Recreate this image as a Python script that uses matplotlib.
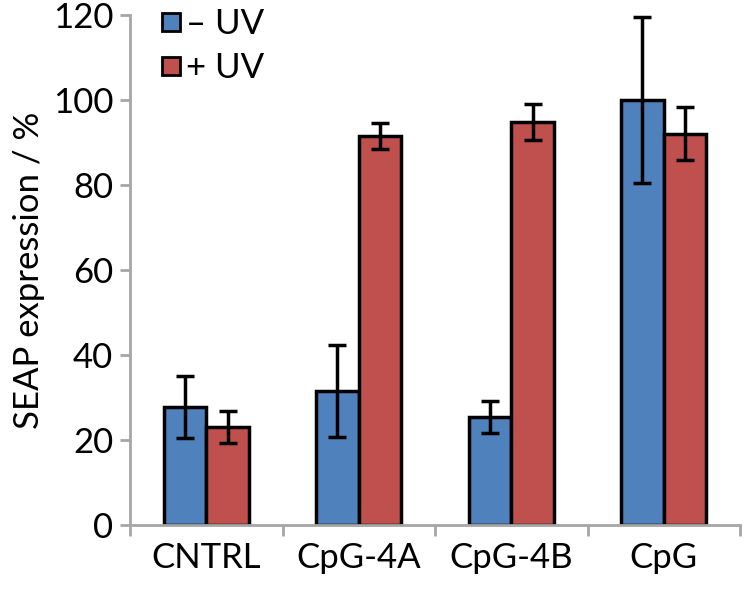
import numpy as np
import matplotlib.pyplot as plt
from matplotlib.lines import Line2D

categories = ["CNTRL", "CpG-4A", "CpG-4B", "CpG"]
minus_uv = [27.7, 31.6, 25.4, 100.0]
minus_uv_err = [7.3, 10.8, 3.8, 19.6]
plus_uv = [23.1, 91.5, 94.8, 92.1]
plus_uv_err = [3.7, 3.0, 4.3, 6.2]
yticks = [0, 20, 40, 60, 80, 100, 120]

blue = "#4F81BD"
red = "#C0504D"
grey = "#A6A6A6"

plt.rcParams["font.family"] = ["Lato", "DejaVu Sans"]

fig = plt.figure(figsize=(7.49, 5.93), dpi=100)
ax = fig.add_axes([0.1736, 0.1147, 0.8144, 0.86])

x = np.arange(len(categories))
w = 0.28
err_kw = dict(ecolor="black", elinewidth=2.5, capsize=6.5, capthick=2.5)
ax.bar(x - w / 2, minus_uv, w, yerr=minus_uv_err, color=blue,
       edgecolor="black", linewidth=2.5, error_kw=err_kw)
ax.bar(x + w / 2, plus_uv, w, yerr=plus_uv_err, color=red,
       edgecolor="black", linewidth=2.5, error_kw=err_kw)

ax.set_xlim(-0.5, len(categories) - 0.5)
ax.set_ylim(0, 120)
ax.set_yticks(yticks)

# Excel style: tick marks between categories, labels centred
ax.set_xticks(x)
ax.set_xticklabels(categories)
ax.set_xticks(np.arange(len(categories) + 1) - 0.5, minor=True)
ax.tick_params(axis="x", which="major", length=0, pad=12, labelsize=25)
ax.tick_params(axis="x", which="minor", length=8, width=2, color=grey)
ax.tick_params(axis="y", length=7, width=2, color=grey, labelsize=25, pad=5)

for side in ["top", "right"]:
    ax.spines[side].set_visible(False)
for side in ["left", "bottom"]:
    ax.spines[side].set_color(grey)
    ax.spines[side].set_linewidth(2)

ax.set_ylabel("SEAP expression / %", fontsize=25, labelpad=6)

handles = [
    Line2D([], [], marker="s", linestyle="none", markersize=13,
           markerfacecolor=blue, markeredgecolor="black", markeredgewidth=2),
    Line2D([], [], marker="s", linestyle="none", markersize=13,
           markerfacecolor=red, markeredgecolor="black", markeredgewidth=2),
]
ax.legend(handles, ["\u2013 UV", "+ UV"], loc="upper left",
          bbox_to_anchor=(-0.01, 1.075), frameon=False, fontsize=25,
          handletextpad=0.0, handlelength=0.9, labelspacing=0.35)

fig.savefig("out.png", dpi=100)
